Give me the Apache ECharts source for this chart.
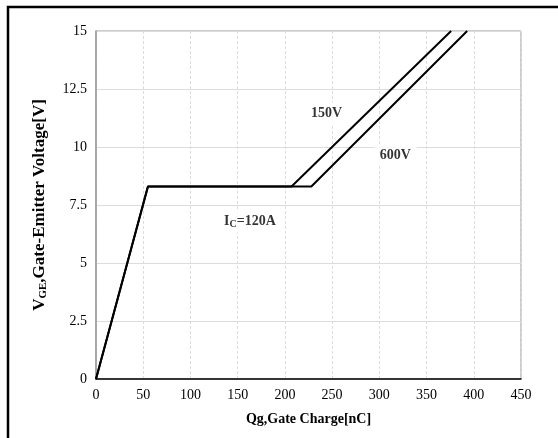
<!DOCTYPE html>
<html><head><meta charset="utf-8">
<script src="https://cdn.jsdelivr.net/npm/echarts@6/dist/echarts.min.js"></script>
<style>html,body{margin:0;padding:0;background:#fff}#c{width:558px;height:438px}</style>
</head><body><div id="c"></div>
<script>
const qg150 = [0, 55, 207, 376];
const vge150 = [0, 8.3, 8.3, 15];
const qg600 = [0, 55, 228, 393];
const vge600 = [0, 8.3, 8.3, 15];
const xTicks = [0, 50, 100, 150, 200, 250, 300, 350, 400, 450];
const yTicks = [0, 2.5, 5, 7.5, 10, 12.5, 15];
const annText = ['150V', '600V', '{b|I}{s|C}{b|=120A}'];
const annX = [244, 317, 163];
const annY = [11.45, 9.65, 6.8];

const F = 'Liberation Serif, Times New Roman, serif';
const chart = echarts.init(document.getElementById('c'));
const mk = (xs, ys) => xs.map((x, i) => [x, ys[i]]);
chart.setOption({
  animation: false,
  graphic: [{type: 'rect', shape: {x: 8, y: 7, width: 580, height: 460}, style: {fill: 'none', stroke: '#000', lineWidth: 2.5}, z: 100}],
  grid: {left: 96, top: 31, right: 37, bottom: 59, show: true, borderColor: '#9a9a9a', borderWidth: 1},
  xAxis: {
    type: 'value', min: 0, max: 450, interval: 50,
    name: 'Qg,Gate Charge[nC]', nameLocation: 'middle', nameGap: 33,
    nameTextStyle: {fontFamily: F, fontWeight: 'bold', fontSize: 14, color: '#000'},
    axisLine: {show: true, lineStyle: {color: '#000', width: 1.5}},
    axisTick: {show: false},
    axisLabel: {fontFamily: F, fontSize: 14, color: '#000', margin: 9,
      formatter: v => xTicks.includes(v) ? String(v) : ''},
    splitLine: {show: true, lineStyle: {color: '#dcdcdc', type: [3, 2], width: 1}}
  },
  yAxis: {
    type: 'value', min: 0, max: 15, interval: 2.5,
    name: '{b|V}{s|GE}{b|,Gate-Emitter Voltage[V]}', nameLocation: 'middle', nameGap: 47,
    nameTextStyle: {fontFamily: F, fontWeight: 'bold', fontSize: 17, color: '#000',
      rich: {b: {fontFamily: F, fontWeight: 'bold', fontSize: 17, color: '#000'},
             s: {fontFamily: F, fontWeight: 'bold', fontSize: 11, color: '#000', verticalAlign: 'bottom', padding: [7, 0, 0, 0]}}},
    axisLine: {show: true, lineStyle: {color: '#9a9a9a', width: 1.5}},
    axisTick: {show: false},
    axisLabel: {fontFamily: F, fontSize: 14, color: '#000', margin: 9,
      formatter: v => yTicks.includes(v) ? String(v) : ''},
    splitLine: {show: true, lineStyle: {color: '#dcdcdc', width: 1}}
  },
  series: [
    {type: 'line', name: '150V', data: mk(qg150, vge150), symbol: 'none', lineStyle: {color: '#000', width: 2}, z: 3},
    {type: 'line', name: '600V', data: mk(qg600, vge600), symbol: 'none', lineStyle: {color: '#000', width: 2}, z: 3},
    {type: 'scatter', symbolSize: 0, z: 5,
      data: annX.map((x, i) => ({value: [x, annY[i]], label: {formatter: annText[i]}})),
      label: {show: true, position: 'inside', fontFamily: F, fontWeight: 'bold', fontSize: 14, color: '#000',
        backgroundColor: '#fff', padding: [4, 6],
        rich: {b: {fontFamily: F, fontWeight: 'bold', fontSize: 14, color: '#000'},
               s: {fontFamily: F, fontWeight: 'bold', fontSize: 10, color: '#000', verticalAlign: 'bottom', padding: [6, 0, 0, 0]}}}
    }
  ]
});
</script></body></html>
